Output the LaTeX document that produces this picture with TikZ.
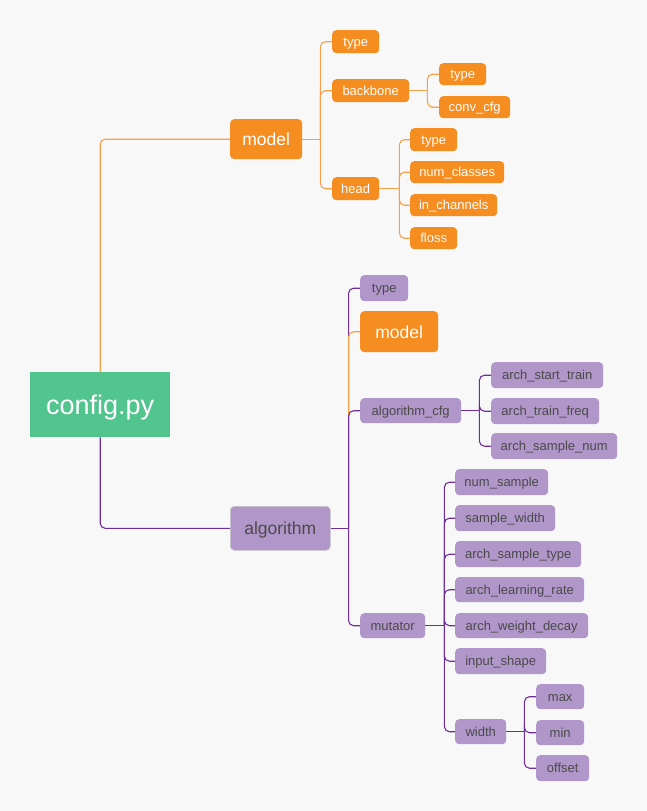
\documentclass[tikz,border=0pt]{standalone}
\usepackage{fontspec}
\setmainfont{Liberation Sans}
\definecolor{bgC}{HTML}{F8F8F8}
\definecolor{greenC}{HTML}{52C48D}
\definecolor{orangeC}{HTML}{F68D21}
\definecolor{purpC}{HTML}{B197C9}
\definecolor{ptextC}{HTML}{4A4A4A}
\definecolor{olineC}{HTML}{F7A04C}
\definecolor{plineC}{HTML}{6F2F9A}
\begin{document}
\begin{tikzpicture}[x=1pt,y=-1pt,
  box/.style={anchor=north west, inner sep=0pt, rounded corners=4pt},
  small/.style={font=\fontsize{13}{13}\selectfont, text height=9.5pt, text depth=0pt},
  big/.style={font=\fontsize{17.5}{17.5}\selectfont, text height=13pt, text depth=0pt},
  ob/.style={box, small, fill=orangeC, text=white},
  obig/.style={box, big, fill=orangeC, text=white},
  pb/.style={box, small, fill=purpC, text=ptextC},
  pbig/.style={box, big, fill=purpC, text=ptextC, draw=black!22, line width=0.6pt},
  oline/.style={draw=olineC, line width=1.1pt, rounded corners=5pt},
  pline/.style={draw=plineC, line width=1.1pt, rounded corners=5pt}]
\fill[bgC] (0,0) rectangle (647,811);
\useasboundingbox (0,0) rectangle (647,811);

% root
\node[anchor=north west, inner sep=0pt, fill=greenC, text=white,
  font=\fontsize{27}{27}\selectfont, text height=20pt, text depth=0pt,
  minimum width=140pt, minimum height=65pt] (config) at (30,372) {config.py};

% model subtree
\node[obig, minimum width=72pt, minimum height=40pt] (model) at (230,119) {model};
\node[ob, minimum width=47pt, minimum height=23pt] (mtype) at (332,30) {type};
\node[ob, minimum width=77pt, minimum height=23pt] (mbb) at (332,79) {backbone};
\node[ob, minimum width=47pt, minimum height=22pt] (bbtype) at (439,63) {type};
\node[ob, minimum width=71pt, minimum height=22pt] (bbconv) at (439,96) {conv\_cfg};
\node[ob, minimum width=47pt, minimum height=23pt] (mhead) at (332,177) {head};
\node[ob, minimum width=47pt, minimum height=23pt] (htype) at (410,128) {type};
\node[ob, minimum width=94pt, minimum height=22pt] (hnum) at (410,161) {num\_classes};
\node[ob, minimum width=87pt, minimum height=22pt] (hin) at (410,194) {in\_channels};
\node[ob, minimum width=47pt, minimum height=22pt] (hfloss) at (410,227) {floss};

% algorithm subtree
\node[pbig, minimum width=100pt, minimum height=44pt] (alg) at (230,506) {algorithm};
\node[pb, minimum width=48pt, minimum height=26pt] (atype) at (360,275) {type};
\node[obig, minimum width=78pt, minimum height=41pt] (amodel) at (360,311) {model};
\node[pb, minimum width=101pt, minimum height=25pt] (acfg) at (360,398) {algorithm\_cfg};
\node[pb, minimum width=112pt, minimum height=26pt] (cstart) at (491,362) {arch\_start\_train};
\node[pb, minimum width=108pt, minimum height=26pt] (cfreq) at (491,398) {arch\_train\_freq};
\node[pb, minimum width=126pt, minimum height=26pt] (cnum) at (491,433) {arch\_sample\_num};
\node[pb, minimum width=65pt, minimum height=25pt] (mut) at (360,613) {mutator};
\node[pb, minimum width=93pt, minimum height=26pt] (m1) at (455,469) {num\_sample};
\node[pb, minimum width=100pt, minimum height=26pt] (m2) at (455,505) {sample\_width};
\node[pb, minimum width=126pt, minimum height=26pt] (m3) at (455,541) {arch\_sample\_type};
\node[pb, minimum width=129pt, minimum height=25pt] (m4) at (455,577) {arch\_learning\_rate};
\node[pb, minimum width=133pt, minimum height=25pt] (m5) at (455,613) {arch\_weight\_decay};
\node[pb, minimum width=91pt, minimum height=26pt] (m6) at (455,648) {input\_shape};
\node[pb, minimum width=51pt, minimum height=25pt] (m7) at (455,719) {width};
\node[pb, minimum width=48pt, minimum height=25pt] (wmax) at (536,684) {max};
\node[pb, minimum width=48pt, minimum height=25pt] (wmin) at (536,720) {min};
\node[pb, minimum width=53pt, minimum height=26pt] (woff) at (536,755) {offset};

% connectors: root
\draw[oline] (config.north) |- (model.west);
\draw[pline] (config.south) |- (alg.west);

% model children
\draw[oline] (model.east) -- ++(18,0);
\foreach \c in {mtype,mbb,mhead}
  \draw[oline] ([xshift=18pt]model.east) |- (\c.west);
\draw[oline] (mbb.east) -- ++(18,0);
\foreach \c in {bbtype,bbconv}
  \draw[oline] ([xshift=18pt]mbb.east) |- (\c.west);
\draw[oline] (mhead.east) -- ++(20,0);
\foreach \c in {htype,hnum,hin,hfloss}
  \draw[oline] ([xshift=20pt]mhead.east) |- (\c.west);

% algorithm children (drawing order gives the colours)
\draw[pline] (alg.east) -- ++(18,0);
\draw[pline] ([xshift=18pt]alg.east) |- (atype.west);
\draw[oline] ([xshift=18pt]alg.east) |- (amodel.west);
\draw[pline] ([xshift=18pt]alg.east) |- (acfg.west);
\draw[pline] ([xshift=18pt]alg.east) |- (mut.west);
\draw[pline] (acfg.east) -- ++(18,0);
\foreach \c in {cstart,cfreq,cnum}
  \draw[pline] ([xshift=18pt]acfg.east) |- (\c.west);
\draw[pline] (mut.east) -- ++(19,0);
\foreach \c in {m1,m2,m3,m4,m5,m6,m7}
  \draw[pline] ([xshift=19pt]mut.east) |- (\c.west);
\draw[pline] (m7.east) -- ++(18,0);
\foreach \c in {wmax,wmin,woff}
  \draw[pline] ([xshift=18pt]m7.east) |- (\c.west);
\end{tikzpicture}
\end{document}
